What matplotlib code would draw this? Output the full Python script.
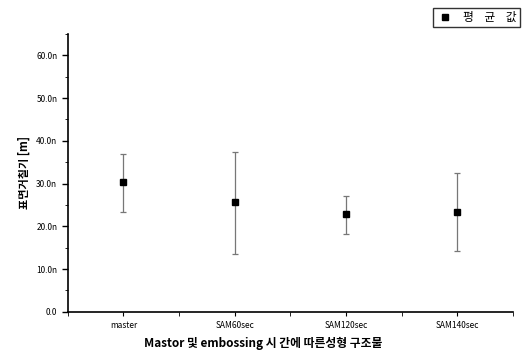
import matplotlib.pyplot as plt
import numpy as np
from matplotlib.ticker import MultipleLocator, FuncFormatter

plt.rcParams['font.family'] = ['Noto Sans CJK KR', 'DejaVu Sans']

categories = ['master', 'SAM60sec', 'SAM120sec', 'SAM140sec']
means = [30.3, 25.6, 22.8, 23.4]
upper = [37.0, 37.4, 27.2, 32.4]
lower = [23.4, 13.6, 18.1, 14.3]

x = np.arange(1, len(categories) + 1)
err = [np.array(means) - np.array(lower), np.array(upper) - np.array(means)]

fig = plt.figure(figsize=(5.26, 3.54), dpi=100)
ax = fig.add_axes([0.129, 0.119, 0.846, 0.785])

ax.errorbar(x, means, yerr=err, fmt='none', ecolor='#777777', elinewidth=0.9,
            capsize=2.5, capthick=0.9)
ax.plot(x, means, 's', color='black', markersize=5, label='평    균    값')

ax.set_xlim(0.5, 4.5)
ax.set_ylim(0, 65)
ax.set_xticks(x)
ax.set_xticklabels(categories, fontsize=6)
ax.xaxis.set_minor_locator(MultipleLocator(0.5))
ax.yaxis.set_major_locator(MultipleLocator(10))
ax.yaxis.set_minor_locator(MultipleLocator(5))
ax.yaxis.set_major_formatter(FuncFormatter(lambda v, p: '0.0' if v == 0 else f'{v:.1f}n'))
ax.tick_params(axis='y', labelsize=6, length=4, width=1)
ax.tick_params(axis='y', which='minor', length=2.5)
ax.tick_params(axis='x', length=3, width=0.8)
ax.tick_params(axis='x', which='minor', length=3)

for s in ['top', 'right']:
    ax.spines[s].set_visible(False)
ax.spines['left'].set_linewidth(1.2)
ax.spines['bottom'].set_linewidth(1.2)

ax.set_ylabel('표면거칠기 [m]', fontsize=8, fontweight='bold')
ax.set_xlabel('Mastor 및 embossing 시 간에 따른성형 구조물', fontsize=8.5, fontweight='bold')
ax.xaxis.set_label_coords(0.44, -0.09)

ax.legend(loc='upper right', bbox_to_anchor=(1.016, 1.094), fontsize=8.5, frameon=True,
          fancybox=False, edgecolor='black', handletextpad=0.9, borderpad=0.25,
          handlelength=1.4, borderaxespad=0)

fig.savefig('out.png', dpi=100)
